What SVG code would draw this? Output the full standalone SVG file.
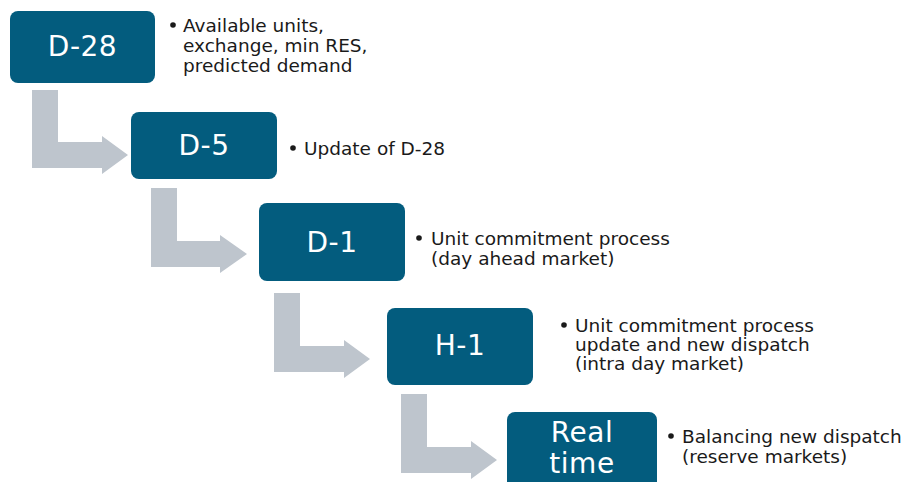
<svg xmlns="http://www.w3.org/2000/svg" width="906" height="482" viewBox="0 0 906 482">
<style>
.box{fill:#035C7E}
.lbl{font-family:"DejaVu Sans","Verdana",sans-serif;font-size:28px;letter-spacing:0.5px;fill:#ffffff;text-anchor:middle}
.txt{font-family:"DejaVu Sans","Verdana",sans-serif;font-size:18.5px;fill:#1a1a1a}
.arr{fill:#BEC5CD}
.dot{fill:#1a1a1a}
</style>
<rect width="906" height="482" fill="#ffffff"/>
<g id="connectors">
<polygon class="arr" points="32,90 58,90 58,142 102,142 102,136 128,155 102,174 102,168 32,168"/>
<polygon class="arr" points="151,188 177,188 177,241 220,241 220,235 247,254 220,273 220,267 151,267"/>
<polygon class="arr" points="274,293 300,293 300,346 344,346 344,340 370,359 344,378 344,372 274,372"/>
<polygon class="arr" points="401,394 427,394 427,447 471,447 471,441 497,460 471,479 471,473 401,473"/>
</g>
<g id="d28">
<rect class="box" x="10" y="11" width="145" height="72" rx="8"/>
<text class="lbl" x="82.5" y="56">D-28</text>
<circle class="dot" cx="173" cy="25" r="2.8"/>
<text class="txt" x="183" y="32">Available units,</text>
<text class="txt" x="183" y="52">exchange, min RES,</text>
<text class="txt" x="183" y="72">predicted demand</text>
</g>
<g id="d5">
<rect class="box" x="131" y="112" width="146" height="67" rx="8"/>
<text class="lbl" x="204" y="155">D-5</text>
<circle class="dot" cx="293" cy="148" r="2.8"/>
<text class="txt" x="304" y="155">Update of D-28</text>
</g>
<g id="d1">
<rect class="box" x="259" y="203" width="146" height="78" rx="8"/>
<text class="lbl" x="332" y="252">D-1</text>
<circle class="dot" cx="419" cy="238" r="2.8"/>
<text class="txt" x="431" y="245">Unit commitment process</text>
<text class="txt" x="431" y="265">(day ahead market)</text>
</g>
<g id="h1">
<rect class="box" x="387" y="308" width="146" height="77" rx="8"/>
<text class="lbl" x="460" y="355">H-1</text>
<circle class="dot" cx="564" cy="325" r="2.8"/>
<text class="txt" x="575" y="332">Unit commitment process</text>
<text class="txt" x="575" y="351">update and new dispatch</text>
<text class="txt" x="575" y="370">(intra day market)</text>
</g>
<g id="realtime">
<rect class="box" x="507" y="412" width="150" height="82" rx="8"/>
<text class="lbl" x="582" y="442">Real</text>
<text class="lbl" x="582" y="473">time</text>
<circle class="dot" cx="671" cy="436" r="2.8"/>
<text class="txt" x="682" y="443">Balancing new dispatch</text>
<text class="txt" x="682" y="463">(reserve markets)</text>
</g>
</svg>
